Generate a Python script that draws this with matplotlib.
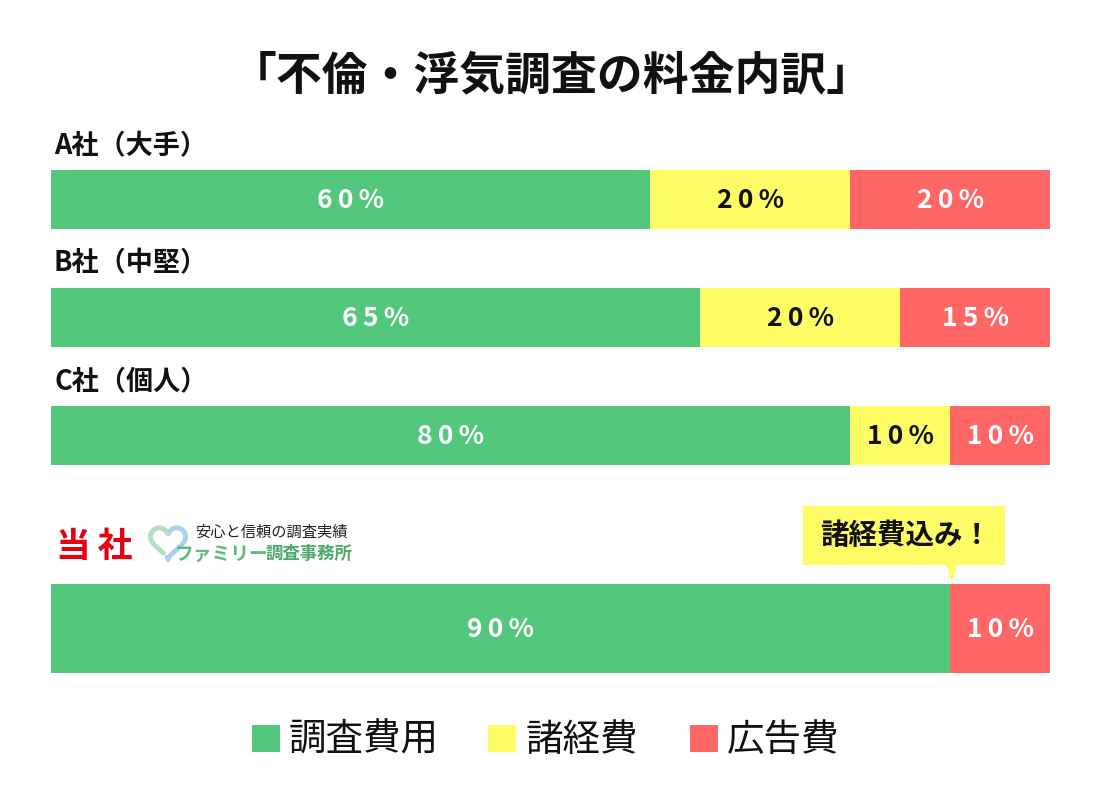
import matplotlib
matplotlib.use("Agg")
import matplotlib.pyplot as plt
from matplotlib.patches import Rectangle, Polygon
import numpy as np

plt.rcParams['font.family'] = ['Noto Sans CJK JP', 'DejaVu Sans']

title = "「不倫・浮気調査の料金内訳」"
companies = ["A社（大手）", "B社（中堅）", "C社（個人）", "当社"]
series_names = ["調査費用", "諸経費", "広告費"]
survey = [60, 65, 80, 90]
expenses = [20, 20, 10, 0]
ads = [20, 15, 10, 10]
callout_text = "諸経費込み！"
logo_tagline = "安心と信頼の調査実績"
logo_name = "ファミリー"
logo_name2 = "調査事務所"

colors = ["#53C77C", "#FFFD66", "#FF6666"]
text_colors = ["white", "#111111", "white"]

W, H = 1100, 810
fig = plt.figure(figsize=(W / 100, H / 100), dpi=100)
ax = fig.add_axes([0, 0, 1, 1])
px_per = (1050 - 51) / 100.0
ax.set_xlim(-51 / px_per, (W - 51) / px_per)
ax.set_ylim(H, 0)
ax.axis('off')

def xp(px):
    return (px - 51) / px_per

def tracked(s, sep="\u2009"):
    return sep.join(list(s))

bar_centers = [199.5, 317.5, 435.5, 628.5]
bar_heights = [59, 59, 59, 89]
label_y = [145, 263, 381]

series = [survey, expenses, ads]
for i in range(len(companies)):
    left = 0
    for s, vals in enumerate(series):
        v = vals[i]
        if v <= 0:
            continue
        ax.barh(bar_centers[i], v, left=left, height=bar_heights[i],
                color=colors[s], linewidth=0)
        ax.text(left + v / 2, bar_centers[i] + 1, tracked(f"{v}%"), ha='center', va='center',
                fontsize=19, fontweight='bold', color=text_colors[s])
        left += v

for i in range(3):
    ax.text(xp(54), label_y[i], companies[i], ha='left', va='center',
            fontsize=19.5, fontweight='bold', color='#111111')

ax.text(xp(552), 76, title, ha='center', va='center', fontsize=33,
        fontweight='bold', color='#111111')

# 当社
ax.text(xp(56), 546, tracked(companies[3], "\u2009"), ha='left', va='center', fontsize=25,
        fontweight='bold', color='#E60012')

# heart logo
cx, cy, sc = 168, 541, 1.1
def heart(t):
    hx = 16 * np.sin(t) ** 3
    hy = 13 * np.cos(t) - 5 * np.cos(2 * t) - 2 * np.cos(3 * t) - np.cos(4 * t)
    return xp(cx + hx * sc), cy - hy * sc
bx, by = heart(np.linspace(0.10 * np.pi, 1.12 * np.pi, 150))
ax.plot(bx, by, color='#A6D2F0', lw=3.5, solid_capstyle='round')
gx, gy = heart(np.linspace(1.22 * np.pi, 1.90 * np.pi, 120))
ax.plot(gx, gy, color='#B5DEC4', lw=3.5, solid_capstyle='round')

ax.text(xp(195), 532, logo_tagline, ha='left', va='center', fontsize=11, color='#222222')
ax.text(xp(175), 554, logo_name, ha='left', va='center', fontsize=13.5,
        fontweight='bold', color='#5DBB7E', style='italic')
ax.text(xp(266), 554, logo_name2, ha='left', va='center', fontsize=12.5,
        fontweight='bold', color='#4EA96C')

# callout
ax.add_patch(Rectangle((xp(803), 506), (1005 - 803) / px_per, 59, color='#FFFD66', lw=0))
ax.add_patch(Polygon([[xp(946), 564], [xp(957), 564], [xp(952), 583]], closed=True,
                     color='#FFFD66', lw=0))
ax.text(xp(906), 536, callout_text, ha='center', va='center', fontsize=20.5,
        fontweight='bold', color='#111111')

# legend
leg_sq_x = [252, 488, 690]
leg_txt_x = [289, 526, 727]
for s in range(3):
    ax.add_patch(Rectangle((xp(leg_sq_x[s]), 725), 28 / px_per, 27, color=colors[s], lw=0))
    ax.text(xp(leg_txt_x[s]), 740, series_names[s], ha='left', va='center',
            fontsize=27, color='#111111')

fig.savefig("out.png", dpi=100)
